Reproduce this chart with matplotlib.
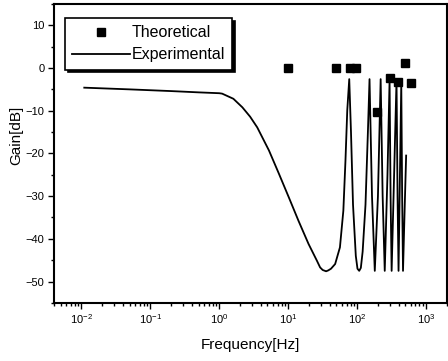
import matplotlib
matplotlib.use('Agg')
import matplotlib.pyplot as plt
from matplotlib.ticker import MultipleLocator, LogLocator, NullFormatter

plt.rcParams['font.family'] = ['Liberation Sans', 'DejaVu Sans']
plt.rcParams['mathtext.fontset'] = 'custom'
plt.rcParams['mathtext.rm'] = 'Liberation Sans'
plt.rcParams['mathtext.it'] = 'Liberation Sans'

exp_freq = [0.011, 0.05, 0.2, 0.5, 1.0, 1.1, 1.6, 2.16, 2.8, 3.55, 5.25, 7.3,
            10.2, 14.1, 19.7, 26, 29, 31.6, 35.4, 38, 41.7, 47.9, 56.2, 63, 67.6, 71.8,
            76.7, 81.3, 87, 95.5, 101, 107, 113, 120, 132, 143, 151, 164, 180, 200, 219,
            234, 251, 275, 295, 305, 316, 347, 372, 385, 398, 417, 436, 449,
            462, 490, 513]
exp_gain = [-4.6, -5.0, -5.4, -5.7, -5.9, -6.0, -7.2, -9.2, -11.4, -13.9, -19.3, -24.7,
            -30.3, -35.8, -41.2, -45.1, -46.7, -47.3, -47.6, -47.4, -47.0, -45.9, -42.0, -33.4, -21.7, -9.9,
            -2.6, -15, -32, -44, -47.0, -47.5, -46.8, -43, -32, -15, -2.6, -30, -47.5, -30, -2.6,
            -30, -47.5, -25, -2.9, -30, -47.5, -22, -2.9, -30, -47.5, -25, -3.5, -30,
            -47.5, -32, -20.5]

# theoretical points
th_freq = [10, 49, 78, 96, 191, 297, 396, 490, 600]
th_gain = [0, 0, 0, 0, -10.2, -2.4, -3.3, 1.1, -3.5]

fig = plt.figure(figsize=(4.48, 3.61), dpi=100)
ax = fig.add_axes([0.1205, 0.161, 0.877, 0.828])

ax.plot(th_freq, th_gain, 's', color='black', ms=6, label='Theoretical')
ax.plot(exp_freq, exp_gain, '-', color='black', lw=1.3, label='Experimental')

ax.set_xscale('log')
ax.set_xlim(0.004, 2000)
ax.set_ylim(-55, 15)
ax.yaxis.set_major_locator(MultipleLocator(10))
ax.yaxis.set_minor_locator(MultipleLocator(5))
ax.xaxis.set_major_locator(LogLocator(base=10, numticks=20))
ax.xaxis.set_minor_locator(LogLocator(base=10, subs=range(2, 10), numticks=20))
ax.xaxis.set_minor_formatter(NullFormatter())

ax.tick_params(which='both', direction='out', labelsize=8, width=1)
ax.tick_params(which='major', length=4, pad=3)
ax.tick_params(which='minor', length=2)
for s in ax.spines.values():
    s.set_linewidth(1.5)

ax.set_xlabel('Frequency[Hz]', fontsize=11, labelpad=8)
ax.set_ylabel('Gain[dB]', fontsize=11)
ax.yaxis.set_label_coords(-0.077, 0.56)

leg = ax.legend(loc='upper left', bbox_to_anchor=(0.028, 0.953), borderaxespad=0,
                fontsize=11.5, fancybox=False, handlelength=3.6, handletextpad=0.1,
                labelspacing=0.45, borderpad=0.45,
                shadow={'color': 'black', 'alpha': 1})
leg.get_frame().set_edgecolor('black')
leg.get_frame().set_linewidth(1.2)
leg.get_frame().set_alpha(1)

fig.savefig('out.png', dpi=100)
